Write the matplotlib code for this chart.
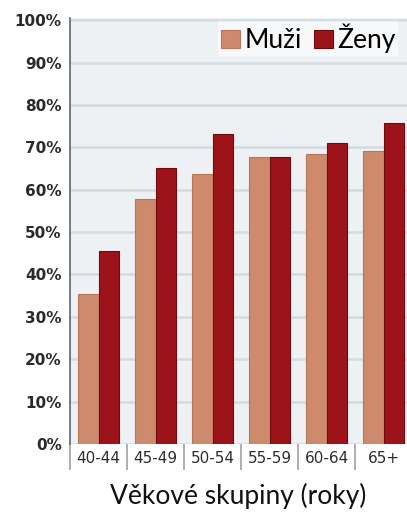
import matplotlib.pyplot as plt
import numpy as np
from matplotlib.ticker import FixedLocator, PercentFormatter

skupiny = ["40-44", "45-49", "50-54", "55-59", "60-64", "65+"]
muzi = [35.4, 57.7, 63.8, 67.8, 68.4, 69.2]
zeny = [45.5, 65.0, 73.1, 67.8, 71.1, 75.8]

c_muzi = "#cd8a6d"
c_zeny = "#9c141a"

fig = plt.figure(figsize=(4.07, 5.15), dpi=100)
ax = fig.add_axes([70 / 407, 71 / 515, 1 - 70 / 407, 426 / 515])
ax.set_facecolor("#edf1f4")

x = np.arange(len(skupiny))
w = 0.36
ax.bar(x - w / 2, muzi, w, color=c_muzi, edgecolor="#b87558", linewidth=0.8, label="Muži", zorder=3)
ax.bar(x + w / 2, zeny, w, color=c_zeny, edgecolor="#6e0b0f", linewidth=0.8, label="Ženy", zorder=3)

ax.set_ylim(0, 100.5)
ax.set_xlim(-0.5, 5.41)
ax.set_yticks(np.arange(0, 101, 10))
ax.yaxis.set_major_formatter(PercentFormatter(decimals=0))
ax.grid(axis="y", color="#d2dbe1", linewidth=1.8, zorder=0)

for s in ["top", "right", "bottom"]:
    ax.spines[s].set_visible(False)
ax.spines["left"].set_color("#5c6670")
ax.spines["left"].set_linewidth(1.2)

ax.tick_params(axis="y", length=0, pad=6, labelsize=11, labelcolor="#2a2a2a")
for t in ax.get_yticklabels():
    t.set_fontweight("bold")

ax.set_xticks(x)
ax.set_xticklabels(skupiny, fontsize=11, color="#2e2e2e")
ax.tick_params(axis="x", which="major", length=0, pad=5)
ax.xaxis.set_minor_locator(FixedLocator(np.arange(-0.5, 5.5, 1)))
ax.tick_params(axis="x", which="minor", length=19, width=1.2, color="#9aa3aa")

ax.set_xlabel("Věkové skupiny (roky)", family="Lato", fontsize=19, color="#111111", labelpad=0)
ax.xaxis.set_label_coords(0.5, -0.092)

leg = ax.legend(loc="upper right", bbox_to_anchor=(0.99, 1.005), frameon=True,
                prop={"family": "Lato", "size": 19}, handlelength=0.75, handleheight=0.7,
                handletextpad=0.15, columnspacing=0.45, ncol=2, borderaxespad=0.2,
                borderpad=0.1, fancybox=False)
leg.get_frame().set_facecolor("white")
leg.get_frame().set_edgecolor("none")
leg.get_frame().set_alpha(0.5)

fig.savefig("out.png", dpi=100, facecolor="white")
